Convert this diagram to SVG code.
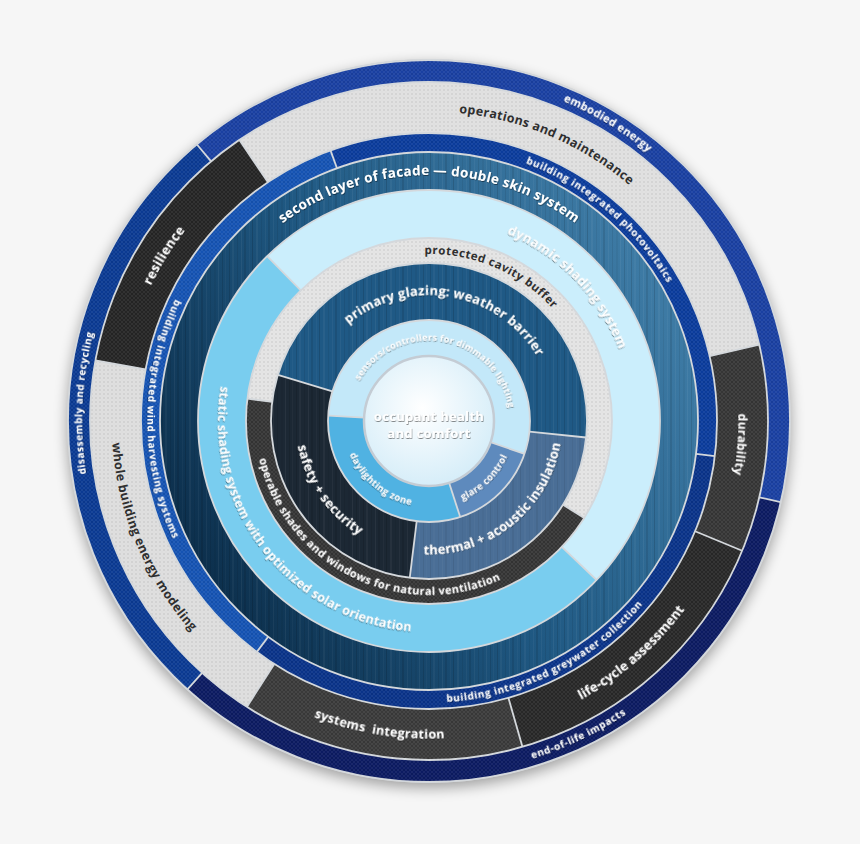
<svg xmlns="http://www.w3.org/2000/svg" width="860" height="844" viewBox="0 0 860 844">
<style>
.seg{fill:none}
.ra{stroke-width:22px}
.rb{stroke-width:51px}
.rc{stroke-width:19px}
.rd{stroke-width:38px}
.re{stroke-width:48px}
.rf{stroke-width:25px}
.rg{stroke-width:57px}
.rh{stroke-width:36px}
.tex{stroke:url(#weave)}
.brush{stroke:url(#brush);opacity:.75}
.bnd{fill:none;stroke:#d4d8dc;stroke-width:1.8px}
.div line{stroke:#d4d8dc;stroke-width:1.8px}
.t{font-family:'Open Sans','Liberation Sans',Arial,sans-serif;font-weight:700;text-anchor:middle}
.w{fill:#ffffff;filter:url(#ts)}
.k{fill:#2f2f2f}
</style>
<defs>
<filter id="ts" x="-5%" y="-30%" width="110%" height="160%"><feDropShadow dx="0.5" dy="0.9" stdDeviation="0.7" flood-color="#000" flood-opacity="0.5"/></filter>
<filter id="blur" x="-10%" y="-10%" width="120%" height="120%"><feGaussianBlur stdDeviation="7"/></filter>
<pattern id="weave" width="4" height="4" patternUnits="userSpaceOnUse">
<rect width="2" height="2" fill="#fff" opacity=".06"/>
<rect x="2" y="2" width="2" height="2" fill="#fff" opacity=".06"/>
<rect x="2" width="2" height="2" fill="#000" opacity=".05"/>
</pattern>
<pattern id="brush" width="67" height="10" patternUnits="userSpaceOnUse">
<rect x="1" width="1" height="10" fill="#000" opacity=".16"/>
<rect x="4" width="2" height="10" fill="#fff" opacity=".05"/>
<rect x="9" width="1" height="10" fill="#000" opacity=".1"/>
<rect x="13" width="1" height="10" fill="#fff" opacity=".07"/>
<rect x="16" width="2" height="10" fill="#000" opacity=".12"/>
<rect x="21" width="1" height="10" fill="#fff" opacity=".04"/>
<rect x="24" width="1" height="10" fill="#000" opacity=".18"/>
<rect x="28" width="2" height="10" fill="#fff" opacity=".06"/>
<rect x="33" width="1" height="10" fill="#000" opacity=".08"/>
<rect x="37" width="1" height="10" fill="#fff" opacity=".05"/>
<rect x="40" width="2" height="10" fill="#000" opacity=".13"/>
<rect x="45" width="1" height="10" fill="#fff" opacity=".06"/>
<rect x="49" width="1" height="10" fill="#000" opacity=".1"/>
<rect x="53" width="2" height="10" fill="#000" opacity=".06"/>
<rect x="57" width="1" height="10" fill="#fff" opacity=".07"/>
<rect x="61" width="1" height="10" fill="#000" opacity=".15"/>
<rect x="64" width="1" height="10" fill="#fff" opacity=".04"/>
</pattern>
<linearGradient id="dgrad" gradientUnits="userSpaceOnUse" x1="-250" y1="150" x2="230" y2="-120">
<stop offset="0" stop-color="#0b2c48"/>
<stop offset="0.5" stop-color="#1f5882"/>
<stop offset="1" stop-color="#3d7aa4"/>
</linearGradient>
<radialGradient id="cg" cx="0.45" cy="0.4" r="0.65">
<stop offset="0" stop-color="#ffffff"/>
<stop offset="1" stop-color="#d3ecf8"/>
</radialGradient>
<path id="cw347" d="M-345.68,-30.26 A347,347 0 0 1 345.68,-30.26"/>
<path id="cw309" d="M-308.32,-26.99 A309.5,309.5 0 0 1 308.32,-26.99"/>
<path id="cw275" d="M-274.45,-24.02 A275.5,275.5 0 0 1 274.45,-24.02"/>
<path id="cw246" d="M-245.07,-21.45 A246,246 0 0 1 245.07,-21.45"/>
<path id="cw203" d="M-202.23,-17.70 A203,203 0 0 1 202.23,-17.70"/>
<path id="cw167" d="M-166.37,-14.56 A167,167 0 0 1 166.37,-14.56"/>
<path id="cw126" d="M-125.52,-10.99 A126,126 0 0 1 125.52,-10.99"/>
<path id="cw80" d="M-80.19,-7.02 A80.5,80.5 0 0 1 80.19,-7.02"/>
<path id="ccw353" d="M-351.66,30.78 A353,353 0 0 0 351.66,30.78"/>
<path id="ccw317" d="M-316.29,27.69 A317.5,317.5 0 0 0 316.29,27.69"/>
<path id="ccw281" d="M-280.43,24.55 A281.5,281.5 0 0 0 280.43,24.55"/>
<path id="ccw211" d="M-210.20,18.40 A211,211 0 0 0 210.20,18.40"/>
<path id="ccw174" d="M-173.34,15.17 A174,174 0 0 0 173.34,15.17"/>
<path id="ccw133" d="M-132.99,11.64 A133.5,133.5 0 0 0 132.99,11.64"/>
<path id="ccw86" d="M-85.67,7.50 A86,86 0 0 0 85.67,7.50"/>
</defs>
<rect width="860" height="844" fill="#f6f6f6"/>
<g transform="translate(429 421)">
<circle r="362" cy="5" fill="#000" opacity=".35" filter="url(#blur)"/>
<circle r="362" fill="#d2d2d2"/>

<g id="ring-outer">
<g id="embodied-energy">
<circle class="seg ra" r="350" pathLength="360" stroke="#1a40a2" stroke-dasharray="143 217" stroke-dashoffset="130"/>
<circle class="seg ra tex" r="350" pathLength="360" stroke-dasharray="143 217" stroke-dashoffset="130"/>
<text class="t w" font-size="11" letter-spacing=".3" transform="rotate(31)"><textPath href="#cw347" startOffset="50%">embodied energy</textPath></text>
</g>
<g id="end-of-life-impacts">
<circle class="seg ra" r="350" pathLength="360" stroke="#0c1b62" stroke-dasharray="119 241" stroke-dashoffset="347"/>
<circle class="seg ra tex" r="350" pathLength="360" stroke-dasharray="119 241" stroke-dashoffset="347"/>
<text class="t w" font-size="10" letter-spacing=".6" transform="rotate(-25.5)"><textPath href="#ccw353" startOffset="50%">end-of-life impacts</textPath></text>
</g>
<g id="disassembly-and-recycling">
<circle class="seg ra" r="350" pathLength="360" stroke="#0b3a93" stroke-dasharray="98 262" stroke-dashoffset="228"/>
<circle class="seg ra tex" r="350" pathLength="360" stroke-dasharray="98 262" stroke-dashoffset="228"/>
<text class="t w" font-size="10" letter-spacing=".5" transform="rotate(273)"><textPath href="#cw347" startOffset="50%">disassembly and recycling</textPath></text>
</g>
</g>

<g id="ring-assessment">
<g id="operations-and-maintenance">
<circle class="seg rb" r="313.5" pathLength="360" stroke="#dfdfdf" stroke-dasharray="111 249" stroke-dashoffset="124"/>
<circle class="seg rb tex" r="313.5" pathLength="360" stroke-dasharray="111 249" stroke-dashoffset="124"/>
<text class="t k" font-size="12.5" letter-spacing=".3" transform="rotate(23)"><textPath href="#cw309" startOffset="50%">operations and maintenance</textPath></text>
</g>
<g id="durability">
<circle class="seg rb" r="313.5" pathLength="360" stroke="#363636" stroke-dasharray="35.5 324.5" stroke-dashoffset="13"/>
<circle class="seg rb tex" r="313.5" pathLength="360" stroke-dasharray="35.5 324.5" stroke-dashoffset="13"/>
<text class="t w" font-size="12" letter-spacing=".2" transform="rotate(94.3)"><textPath href="#cw309" startOffset="50%">durability</textPath></text>
</g>
<g id="life-cycle-assessment">
<circle class="seg rb" r="313.5" pathLength="360" stroke="#282828" stroke-dasharray="51.5 308.5" stroke-dashoffset="337.5"/>
<circle class="seg rb tex" r="313.5" pathLength="360" stroke-dasharray="51.5 308.5" stroke-dashoffset="337.5"/>
<text class="t w" font-size="13" letter-spacing=".1" transform="rotate(-41.1)"><textPath href="#ccw317" startOffset="50%">life-cycle assessment</textPath></text>
</g>
<g id="systems-integration">
<circle class="seg rb" r="313.5" pathLength="360" stroke="#3a3a3a" stroke-dasharray="48.5 311.5" stroke-dashoffset="286"/>
<circle class="seg rb tex" r="313.5" pathLength="360" stroke-dasharray="48.5 311.5" stroke-dashoffset="286"/>
<text class="t w" font-size="12.5" letter-spacing=".3" transform="rotate(9.2)" style="white-space:pre"><textPath href="#ccw317" startOffset="50%">systems  integration</textPath></text>
</g>
<g id="whole-building-energy-modeling">
<circle class="seg rb" r="313.5" pathLength="360" stroke="#dddddd" stroke-dasharray="67.8 292.2" stroke-dashoffset="237.5"/>
<circle class="seg rb tex" r="313.5" pathLength="360" stroke-dasharray="67.8 292.2" stroke-dashoffset="237.5"/>
<text class="t k" font-size="12.5" letter-spacing=".3" transform="rotate(67.2)"><textPath href="#ccw317" startOffset="50%">whole building energy modeling</textPath></text>
</g>
<g id="resilience">
<circle class="seg rb" r="313.5" pathLength="360" stroke="#252525" stroke-dasharray="45.7 314.3" stroke-dashoffset="169.7"/>
<circle class="seg rb tex" r="313.5" pathLength="360" stroke-dasharray="45.7 314.3" stroke-dashoffset="169.7"/>
<text class="t w" font-size="13" letter-spacing=".3" transform="rotate(302)"><textPath href="#cw309" startOffset="50%">resilience</textPath></text>
</g>
</g>

<g id="ring-integrated">
<g id="building-integrated-photovoltaics">
<circle class="seg rc" r="278.5" pathLength="360" stroke="#0b3c9c" stroke-dasharray="117 243" stroke-dashoffset="110"/>
<circle class="seg rc tex" r="278.5" pathLength="360" stroke-dasharray="117 243" stroke-dashoffset="110"/>
<text class="t w" font-size="10" letter-spacing=".7" transform="rotate(40.3)"><textPath href="#cw275" startOffset="50%">building integrated photovoltaics</textPath></text>
</g>
<g id="building-integrated-greywater-collection">
<circle class="seg rc" r="278.5" pathLength="360" stroke="#0a3389" stroke-dasharray="119.7 240.3" stroke-dashoffset="353"/>
<circle class="seg rc tex" r="278.5" pathLength="360" stroke-dasharray="119.7 240.3" stroke-dashoffset="353"/>
<text class="t w" font-size="10" letter-spacing=".6" transform="rotate(-26.5)"><textPath href="#ccw281" startOffset="50%">building integrated greywater collection</textPath></text>
</g>
<g id="building-integrated-wind-harvesting-systems">
<circle class="seg rc" r="278.5" pathLength="360" stroke="#1553b3" stroke-dasharray="123.3 236.7" stroke-dashoffset="233.3"/>
<circle class="seg rc tex" r="278.5" pathLength="360" stroke-dasharray="123.3 236.7" stroke-dashoffset="233.3"/>
<text class="t w" font-size="10" letter-spacing=".6" transform="rotate(90.4)"><textPath href="#ccw281" startOffset="50%">building integrated wind harvesting systems</textPath></text>
</g>
</g>

<g id="second-layer-of-facade">
<circle class="seg rd" r="250" stroke="url(#dgrad)"/>
<circle class="seg rd brush" r="250"/>
<text class="t w" font-size="13.5" letter-spacing=".3"><textPath href="#cw246" startOffset="50%">second layer of facade — double skin system</textPath></text>
</g>

<g id="ring-shading">
<g id="dynamic-shading-system">
<circle class="seg re" r="207" pathLength="360" stroke="#cbeefc" stroke-dasharray="178 182" stroke-dashoffset="134.5"/>
<text class="t w" font-size="13" letter-spacing=".3" transform="rotate(46)"><textPath href="#cw203" startOffset="50%">dynamic shading system</textPath></text>
</g>
<g id="static-shading-system">
<circle class="seg re" r="207" pathLength="360" stroke="#79cdef" stroke-dasharray="182 178" stroke-dashoffset="316.5"/>
<text class="t w" font-size="12.5" letter-spacing=".15" transform="rotate(52.2)"><textPath href="#ccw211" startOffset="50%">static shading system with optimized solar orientation</textPath></text>
</g>
</g>

<g id="ring-cavity">
<g id="protected-cavity-buffer">
<circle class="seg rf" r="170.5" pathLength="360" stroke="#e3e3e3" stroke-dasharray="205 155" stroke-dashoffset="173"/>
<circle class="seg rf tex" r="170.5" pathLength="360" stroke-dasharray="205 155" stroke-dashoffset="173"/>
<text class="t k" font-size="11.5" letter-spacing=".5" transform="rotate(23.2)"><textPath href="#cw167" startOffset="50%">protected cavity buffer</textPath></text>
</g>
<g id="operable-shades-and-windows">
<circle class="seg rf" r="170.5" pathLength="360" stroke="#353535" stroke-dasharray="155 205" stroke-dashoffset="328"/>
<circle class="seg rf tex" r="170.5" pathLength="360" stroke-dasharray="155 205" stroke-dashoffset="328"/>
<text class="t w" font-size="11" letter-spacing=".35" transform="rotate(26.5)"><textPath href="#ccw174" startOffset="50%">operable shades and windows for natural ventilation</textPath></text>
</g>
</g>

<g id="ring-glazing">
<g id="primary-glazing">
<circle class="seg rg" r="129.5" pathLength="360" stroke="#1f5985" stroke-dasharray="169 191" stroke-dashoffset="163"/>
<circle class="seg rg brush" r="129.5" pathLength="360" stroke-dasharray="169 191" stroke-dashoffset="163"/>
<text class="t w" font-size="13" letter-spacing=".2" transform="rotate(9.75)"><textPath href="#cw126" startOffset="50%">primary glazing: weather barrier</textPath></text>
</g>
<g id="thermal-acoustic-insulation">
<circle class="seg rg" r="129.5" pathLength="360" stroke="#4a6e96" stroke-dasharray="91 269" stroke-dashoffset="354"/>
<circle class="seg rg brush" r="129.5" pathLength="360" stroke-dasharray="91 269" stroke-dashoffset="354" style="opacity:.45"/>
<text class="t w" font-size="13" letter-spacing=".1" transform="rotate(-39)"><textPath href="#ccw133" startOffset="50%">thermal + acoustic insulation</textPath></text>
</g>
<g id="safety-security">
<circle class="seg rg" r="129.5" pathLength="360" stroke="#1c2834" stroke-dasharray="100 260" stroke-dashoffset="263"/>
<circle class="seg rg brush" r="129.5" pathLength="360" stroke-dasharray="100 260" stroke-dashoffset="263"/>
<text class="t w" font-size="13" letter-spacing=".3" transform="rotate(55.3)"><textPath href="#ccw133" startOffset="50%">safety + security</textPath></text>
</g>
</g>

<g id="ring-lighting">
<g id="sensors-controllers">
<circle class="seg rh" r="83" pathLength="360" stroke="#c3e8f9" stroke-dasharray="196 164" stroke-dashoffset="177"/>
<text class="t w" font-size="9" letter-spacing=".25" transform="rotate(10.4)"><textPath href="#cw80" startOffset="50%">sensors/controllers for dimmable lighting</textPath></text>
</g>
<g id="glare-control">
<circle class="seg rh" r="83" pathLength="360" stroke="#5e8abd" stroke-dasharray="53 307" stroke-dashoffset="341"/>
<text class="t w" font-size="9.5" letter-spacing=".3" transform="rotate(-44.3)"><textPath href="#ccw86" startOffset="50%">glare control</textPath></text>
</g>
<g id="daylighting-zone">
<circle class="seg rh" r="83" pathLength="360" stroke="#50b2e2" stroke-dasharray="111 249" stroke-dashoffset="288"/>
<text class="t w" font-size="9.5" letter-spacing=".3" transform="rotate(39.5)"><textPath href="#ccw86" startOffset="50%">daylighting zone</textPath></text>
</g>
</g>

<g id="borders">
<circle class="bnd" r="361"/>
<circle class="bnd" r="339"/>
<circle class="bnd" r="288"/>
<circle class="bnd" r="269"/>
<circle class="bnd" r="231"/>
<circle class="bnd" r="183"/>
<circle class="bnd" r="158"/>
<circle class="bnd" r="101"/>
</g>

<g id="connectors" class="div">
<line x1="0" y1="-339" x2="0" y2="-361" transform="rotate(320)"/>
<line x1="0" y1="-339" x2="0" y2="-361" transform="rotate(103)"/>
<line x1="0" y1="-339" x2="0" y2="-361" transform="rotate(222)"/>
<line x1="0" y1="-288" x2="0" y2="-339" transform="rotate(326)"/>
<line x1="0" y1="-288" x2="0" y2="-339" transform="rotate(77)"/>
<line x1="0" y1="-288" x2="0" y2="-339" transform="rotate(112.5)"/>
<line x1="0" y1="-288" x2="0" y2="-339" transform="rotate(164)"/>
<line x1="0" y1="-288" x2="0" y2="-339" transform="rotate(212.5)"/>
<line x1="0" y1="-288" x2="0" y2="-339" transform="rotate(280.3)"/>
<line x1="0" y1="-269" x2="0" y2="-288" transform="rotate(340)"/>
<line x1="0" y1="-269" x2="0" y2="-288" transform="rotate(97)"/>
<line x1="0" y1="-269" x2="0" y2="-288" transform="rotate(216.7)"/>
<line x1="0" y1="-183" x2="0" y2="-231" transform="rotate(315.5)"/>
<line x1="0" y1="-183" x2="0" y2="-231" transform="rotate(133.5)"/>
<line x1="0" y1="-158" x2="0" y2="-183" transform="rotate(277)"/>
<line x1="0" y1="-158" x2="0" y2="-183" transform="rotate(122)"/>
<line x1="0" y1="-101" x2="0" y2="-158" transform="rotate(287)"/>
<line x1="0" y1="-101" x2="0" y2="-158" transform="rotate(96)"/>
<line x1="0" y1="-101" x2="0" y2="-158" transform="rotate(187)"/>
<line x1="0" y1="-65" x2="0" y2="-101" transform="rotate(273)"/>
<line x1="0" y1="-65" x2="0" y2="-101" transform="rotate(109)"/>
<line x1="0" y1="-65" x2="0" y2="-101" transform="rotate(162)"/>
</g>

<g id="occupant-health-and-comfort">
<circle r="65" fill="url(#cg)" stroke="#c4ccd4" stroke-width="2.5"/>
<text class="t w" font-size="13" letter-spacing=".3" y="0">occupant health</text>
<text class="t w" font-size="13" letter-spacing=".3" y="17">and comfort</text>
</g>
</g>
</svg>
